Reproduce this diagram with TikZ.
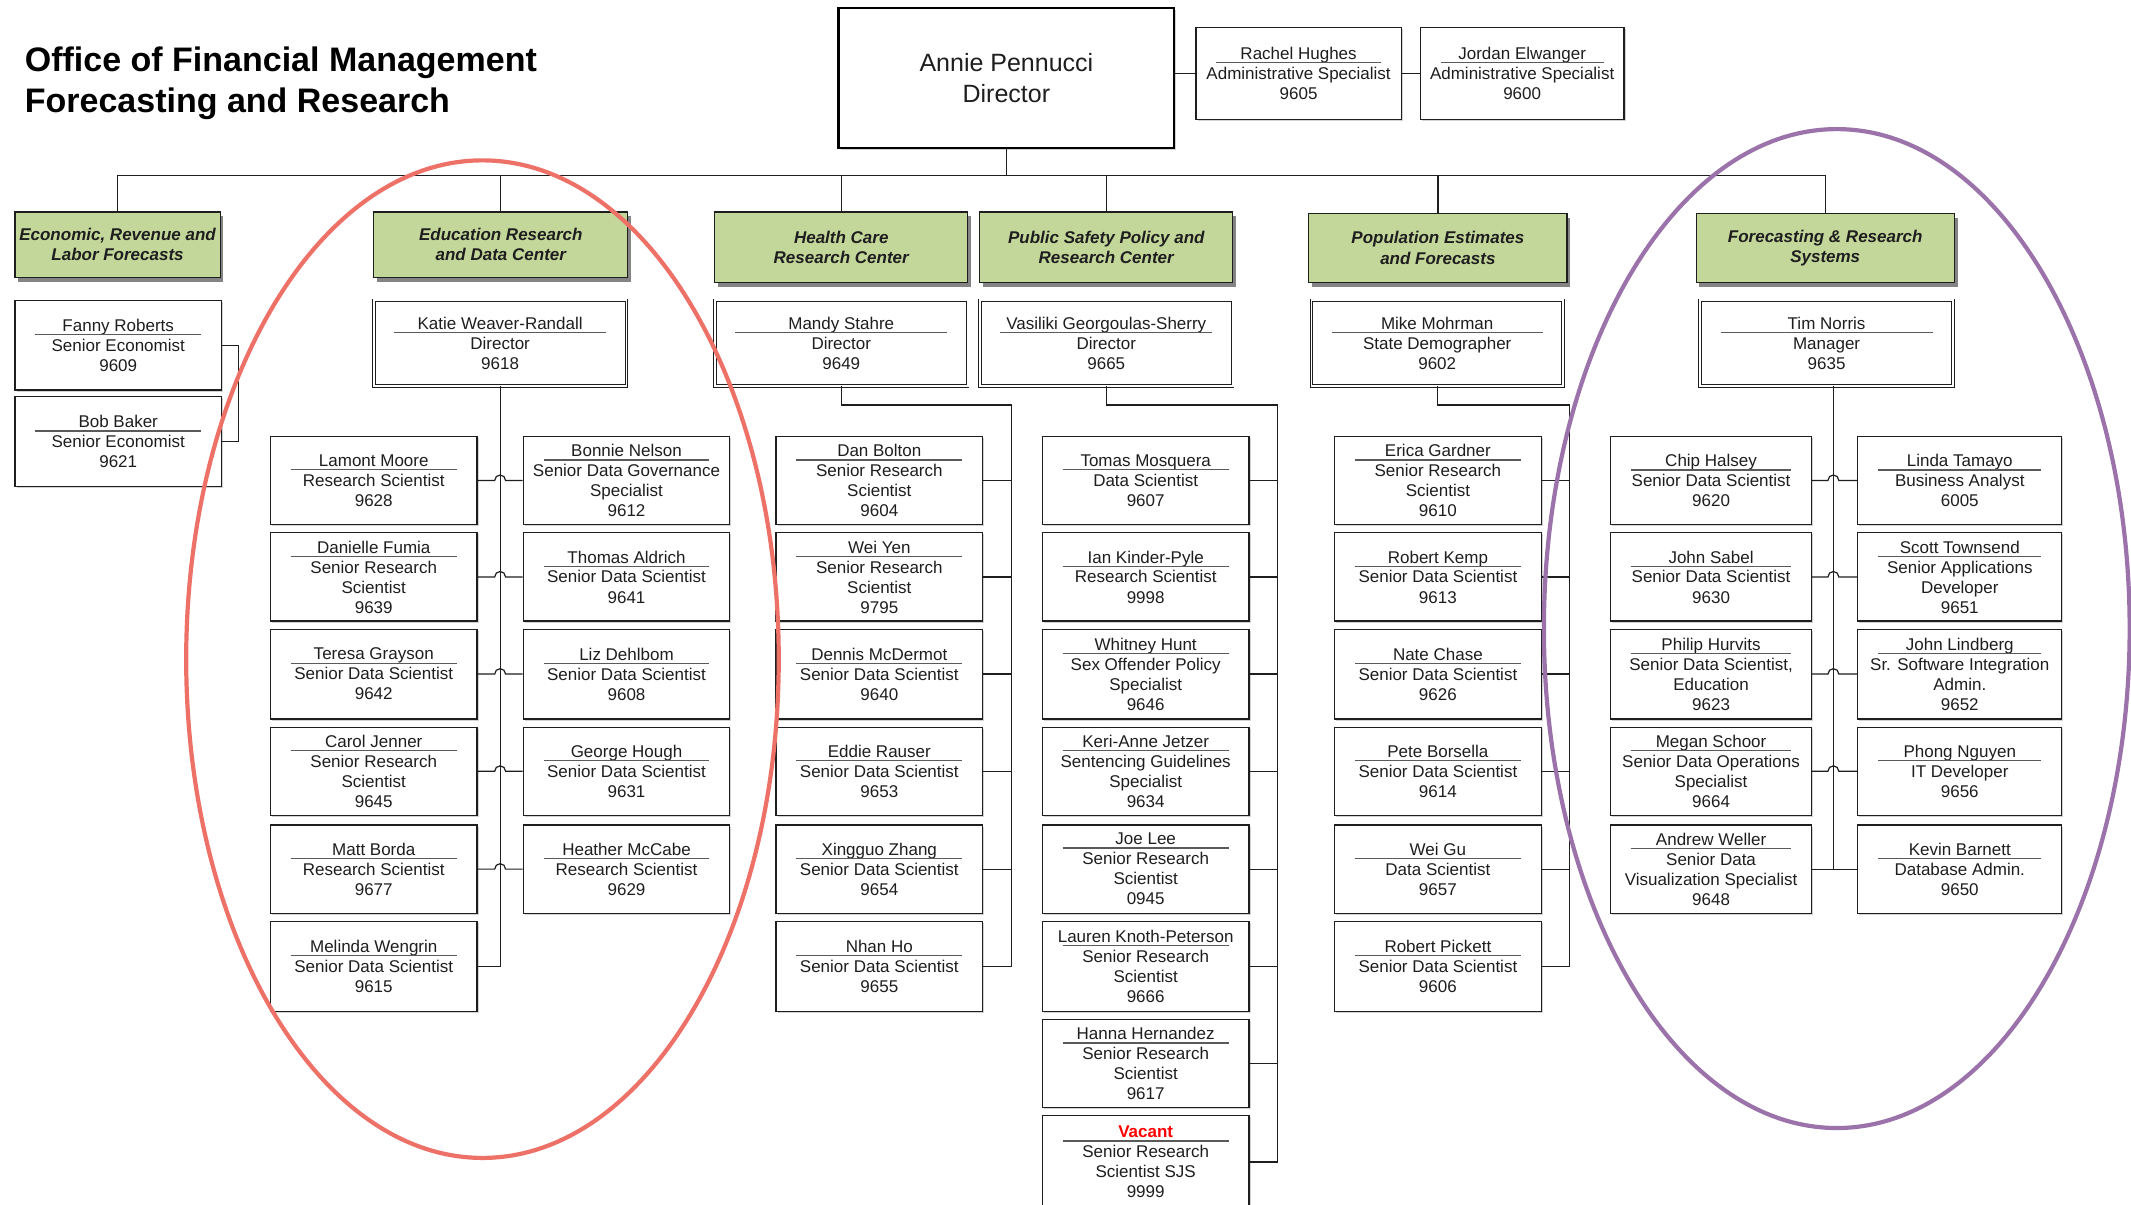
\documentclass[tikz,border=0pt]{standalone}
\usepackage{fontspec}
\setmainfont{Liberation Sans}
\usetikzlibrary{shadows}
\definecolor{hdrgreen}{HTML}{C4D79B}
\definecolor{rulegray}{HTML}{5A5A5A}
\definecolor{ellred}{HTML}{EE7168}
\definecolor{ellpurple}{HTML}{9B73AA}
\definecolor{ink}{HTML}{1E1E1E}
\newcommand{\orgbox}[8]{%
  \pgfmathsetmacro\ocx{(#3+#5)/2}%
  \pgfmathsetmacro\ocy{(#4+#6)/2}%
  \pgfmathsetmacro\obw{(#5-#3)*0.6795}%
  \pgfmathsetmacro\obh{(#6-#4)*0.6795}%
  \pgfmathsetmacro\orw{(#5-#3-30)*0.6795}%
  \node[#1, minimum width=\obw pt, minimum height=\obh pt] (#2) at (\ocx,\ocy)
    {#7\\[-8pt]{\color{rulegray}\rule{\orw pt}{0.7pt}}\\[-2pt]#8};}
\newcommand{\hdrbox}[6]{%
  \pgfmathsetmacro\ocx{(#2+#4)/2}%
  \pgfmathsetmacro\ocy{(#3+#5)/2}%
  \pgfmathsetmacro\obw{(#4-#2)*0.6795}%
  \pgfmathsetmacro\obh{(#5-#3)*0.6795}%
  \node[hdr, minimum width=\obw pt, minimum height=\obh pt] (#1) at (\ocx,\ocy) {#6};}
\tikzset{
  staff/.style={draw=ink, line width=0.6pt, fill=white, inner sep=0pt, align=center,
    font=\fontsize{8.5}{10}\selectfont, text=ink,
    drop shadow={shadow xshift=0.8pt, shadow yshift=-0.8pt, opacity=0.35}},
  mgr/.style={staff, double, double distance=0.9pt, line width=0.45pt},
  hdr/.style={draw=ink, line width=0.6pt, fill=hdrgreen, inner sep=0pt, align=center,
    font=\fontsize{8.5}{10.2}\selectfont\bfseries\itshape, text=ink,
    drop shadow={shadow xshift=1.6pt, shadow yshift=-2.2pt, fill=black!80, opacity=0.6}},
  dirbox/.style={draw=black, line width=1.2pt, fill=white, inner sep=0pt, align=center,
    font=\fontsize{12.5}{15.6}\selectfont, text=ink,
    drop shadow={shadow xshift=1pt, shadow yshift=-1pt, opacity=0.35}},
  conn/.style={draw=ink, line width=0.6pt},
  ell/.style={line width=2.1pt},
}
\begin{document}
\begin{tikzpicture}[x=0.6795pt, y=-0.6795pt]
\useasboundingbox[fill=white] (0,0) rectangle (1568,886);

% title
\node[anchor=west, align=left, inner sep=0pt, font=\fontsize{17}{20.4}\selectfont\bfseries, text=black] (title) at (18,61.5)
  {Office of Financial Management\\Forecasting and Research};

% top
\pgfmathsetmacro\obw{(864-617)*0.6795}\pgfmathsetmacro\obh{(109-6)*0.6795}
\node[dirbox, minimum width=\obw pt, minimum height=\obh pt] (dir) at (740.5,57.5) {Annie Pennucci\\Director};
\orgbox{staff}{rachel}{880}{20}{1031}{88}{Rachel Hughes}{Administrative Specialist\\9605}
\orgbox{staff}{jordan}{1045}{20}{1195}{88}{Jordan Elwanger}{Administrative Specialist\\9600}

% headers
\hdrbox{hEcon}{11}{156}{162}{204}{Economic, Revenue and\\Labor Forecasts}
\hdrbox{hEdu}{275}{156}{462}{204}{Education Research\\and Data Center}
\hdrbox{hHealth}{526}{156}{712}{208}{Health Care\\Research Center}
\hdrbox{hPub}{721}{156}{907}{208}{Public Safety Policy and\\Research Center}
\hdrbox{hPop}{963}{157}{1153}{208}{Population Estimates\\and Forecasts}
\hdrbox{hFor}{1248}{157}{1438}{208}{Forecasting \& Research\\Systems}

% managers
\orgbox{staff}{fanny}{11}{221}{163}{287}{Fanny Roberts}{Senior Economist\\9609}
\orgbox{staff}{bob}{11}{292}{163}{358}{Bob Baker}{Senior Economist\\9621}
\orgbox{mgr}{katie}{275}{221}{461}{284}{Katie Weaver-Randall}{Director\\9618}
\orgbox{mgr}{mandy}{526}{221}{712}{284}{Mandy Stahre}{Director\\9649}
\orgbox{mgr}{vas}{721}{221}{907}{284}{Vasiliki Georgoulas-Sherry}{Director\\9665}
\orgbox{mgr}{mike}{965}{221}{1150}{284}{Mike Mohrman}{State Demographer\\9602}
\orgbox{mgr}{tim}{1251}{221}{1437}{284}{Tim Norris}{Manager\\9635}

% Education
\orgbox{staff}{lamont}{199}{321}{351}{386}{Lamont Moore}{Research Scientist\\9628}
\orgbox{staff}{danielle}{199}{392}{351}{457}{Danielle Fumia}{Senior Research\\Scientist\\9639}
\orgbox{staff}{teresa}{199}{463}{351}{529}{Teresa Grayson}{Senior Data Scientist\\9642}
\orgbox{staff}{carol}{199}{535}{351}{600}{Carol Jenner}{Senior Research\\Scientist\\9645}
\orgbox{staff}{matt}{199}{607}{351}{672}{Matt Borda}{Research Scientist\\9677}
\orgbox{staff}{melinda}{199}{678}{351}{744}{Melinda Wengrin}{Senior Data Scientist\\9615}
\orgbox{staff}{bonnie}{385}{321}{537}{386}{Bonnie Nelson}{Senior Data Governance\\Specialist\\9612}
\orgbox{staff}{thomas}{385}{392}{537}{457}{Thomas Aldrich}{Senior Data Scientist\\9641}
\orgbox{staff}{liz}{385}{463}{537}{529}{Liz Dehlbom}{Senior Data Scientist\\9608}
\orgbox{staff}{george}{385}{535}{537}{600}{George Hough}{Senior Data Scientist\\9631}
\orgbox{staff}{heather}{385}{607}{537}{672}{Heather McCabe}{Research Scientist\\9629}

% Health
\orgbox{staff}{dan}{571}{321}{723}{386}{Dan Bolton}{Senior Research\\Scientist\\9604}
\orgbox{staff}{wei}{571}{392}{723}{457}{Wei Yen}{Senior Research\\Scientist\\9795}
\orgbox{staff}{dennis}{571}{463}{723}{529}{Dennis McDermot}{Senior Data Scientist\\9640}
\orgbox{staff}{eddie}{571}{535}{723}{600}{Eddie Rauser}{Senior Data Scientist\\9653}
\orgbox{staff}{xingguo}{571}{607}{723}{672}{Xingguo Zhang}{Senior Data Scientist\\9654}
\orgbox{staff}{nhan}{571}{678}{723}{744}{Nhan Ho}{Senior Data Scientist\\9655}

% Public safety
\orgbox{staff}{tomas}{767}{321}{919}{386}{Tomas Mosquera}{Data Scientist\\9607}
\orgbox{staff}{ian}{767}{392}{919}{457}{Ian Kinder-Pyle}{Research Scientist\\9998}
\orgbox{staff}{whitney}{767}{463}{919}{529}{Whitney Hunt}{Sex Offender Policy\\Specialist\\9646}
\orgbox{staff}{keri}{767}{535}{919}{600}{Keri-Anne Jetzer}{Sentencing Guidelines\\Specialist\\9634}
\orgbox{staff}{joe}{767}{607}{919}{672}{Joe Lee}{Senior Research\\Scientist\\0945}
\orgbox{staff}{lauren}{767}{678}{919}{744}{Lauren Knoth-Peterson}{Senior Research\\Scientist\\9666}
\orgbox{staff}{hanna}{767}{750}{919}{815}{Hanna Hernandez}{Senior Research\\Scientist\\9617}
\orgbox{staff}{vacant}{767}{821}{919}{889}{{\color{red}\bfseries Vacant}}{Senior Research\\Scientist SJS\\9999}

% Population
\orgbox{staff}{erica}{982}{321}{1134}{386}{Erica Gardner}{Senior Research\\Scientist\\9610}
\orgbox{staff}{kemp}{982}{392}{1134}{457}{Robert Kemp}{Senior Data Scientist\\9613}
\orgbox{staff}{nate}{982}{463}{1134}{529}{Nate Chase}{Senior Data Scientist\\9626}
\orgbox{staff}{pete}{982}{535}{1134}{600}{Pete Borsella}{Senior Data Scientist\\9614}
\orgbox{staff}{weigu}{982}{607}{1134}{672}{Wei Gu}{Data Scientist\\9657}
\orgbox{staff}{pickett}{982}{678}{1134}{744}{Robert Pickett}{Senior Data Scientist\\9606}

% Forecasting
\orgbox{staff}{chip}{1185}{321}{1333}{386}{Chip Halsey}{Senior Data Scientist\\9620}
\orgbox{staff}{sabel}{1185}{392}{1333}{457}{John Sabel}{Senior Data Scientist\\9630}
\orgbox{staff}{hurvits}{1185}{463}{1333}{529}{Philip Hurvits}{Senior Data Scientist,\\Education\\9623}
\orgbox{staff}{schoor}{1185}{535}{1333}{600}{Megan Schoor}{Senior Data Operations\\Specialist\\9664}
\orgbox{staff}{weller}{1185}{607}{1333}{672}{Andrew Weller}{Senior Data\\Visualization Specialist\\9648}
\orgbox{staff}{linda}{1367}{321}{1517}{386}{Linda Tamayo}{Business Analyst\\6005}
\orgbox{staff}{scott}{1367}{392}{1517}{457}{Scott Townsend}{Senior Applications\\Developer\\9651}
\orgbox{staff}{lindberg}{1367}{463}{1517}{529}{John Lindberg}{Sr. Software Integration\\Admin.\\9652}
\orgbox{staff}{phong}{1367}{535}{1517}{600}{Phong Nguyen}{IT Developer\\9656}
\orgbox{staff}{kevin}{1367}{607}{1517}{672}{Kevin Barnett}{Database Admin.\\9650}

% connectors
\coordinate (bus) at (740.5,129);
\draw[conn] (dir.south) -- (bus);
\draw[conn] (hEcon.north) |- (bus) -| (hFor.north);
\foreach \h in {hEdu,hHealth,hPub,hPop} \draw[conn] (\h.north) -- (\h.north |- bus);
\draw[conn] (rachel.west) -- (rachel.west -| dir.east);
\draw[conn] (rachel.east) -- (jordan.west);
\draw[conn] (fanny.east) -- ++(12,0) |- (bob.east);

% Education
\coordinate (eduhop) at (364,0);
\draw[conn] (katie.south) |- (melinda.east);
\foreach \a/\b in {lamont/bonnie,danielle/thomas,teresa/liz,carol/george,matt/heather}
  \draw[conn] (\a.east) -- (\a.east -| eduhop) arc[start angle=180,end angle=360,radius=4] -- (\b.west);

% Health
\coordinate (hsp) at (744,298);
\draw[conn] (mandy.south) |- (hsp) |- (nhan.east);
\foreach \a in {dan,wei,dennis,eddie,xingguo} \draw[conn] (\a.east) -- (\a.east -| hsp);

% Public safety
\coordinate (psp) at (940,298);
\draw[conn] (vas.south) |- (psp) |- (vacant.east);
\foreach \a in {tomas,ian,whitney,keri,joe,lauren,hanna} \draw[conn] (\a.east) -- (\a.east -| psp);

% Population
\coordinate (ppp) at (1155,298);
\draw[conn] (mike.south) |- (ppp) |- (pickett.east);
\foreach \a in {erica,kemp,nate,pete,weigu} \draw[conn] (\a.east) -- (\a.east -| ppp);

% Forecasting
\coordinate (fsp) at (1349,0);
\coordinate (fhop) at (1345,0);
\draw[conn] (tim.south -| fsp) -- (weller.east -| fsp);
\draw[conn] (weller.east) -- (kevin.west);
\foreach \a/\b in {chip/linda,sabel/scott,hurvits/lindberg,schoor/phong}
  \draw[conn] (\a.east) -- (\a.east -| fhop) arc[start angle=180,end angle=360,radius=4] -- (\b.west);

% ellipses
\draw[ell, draw=ellred] (355,485) ellipse [x radius=218, y radius=367];
\draw[ell, draw=ellpurple] (1351.5,462.5) ellipse [x radius=215.5, y radius=367.5];
\end{tikzpicture}
\end{document}
